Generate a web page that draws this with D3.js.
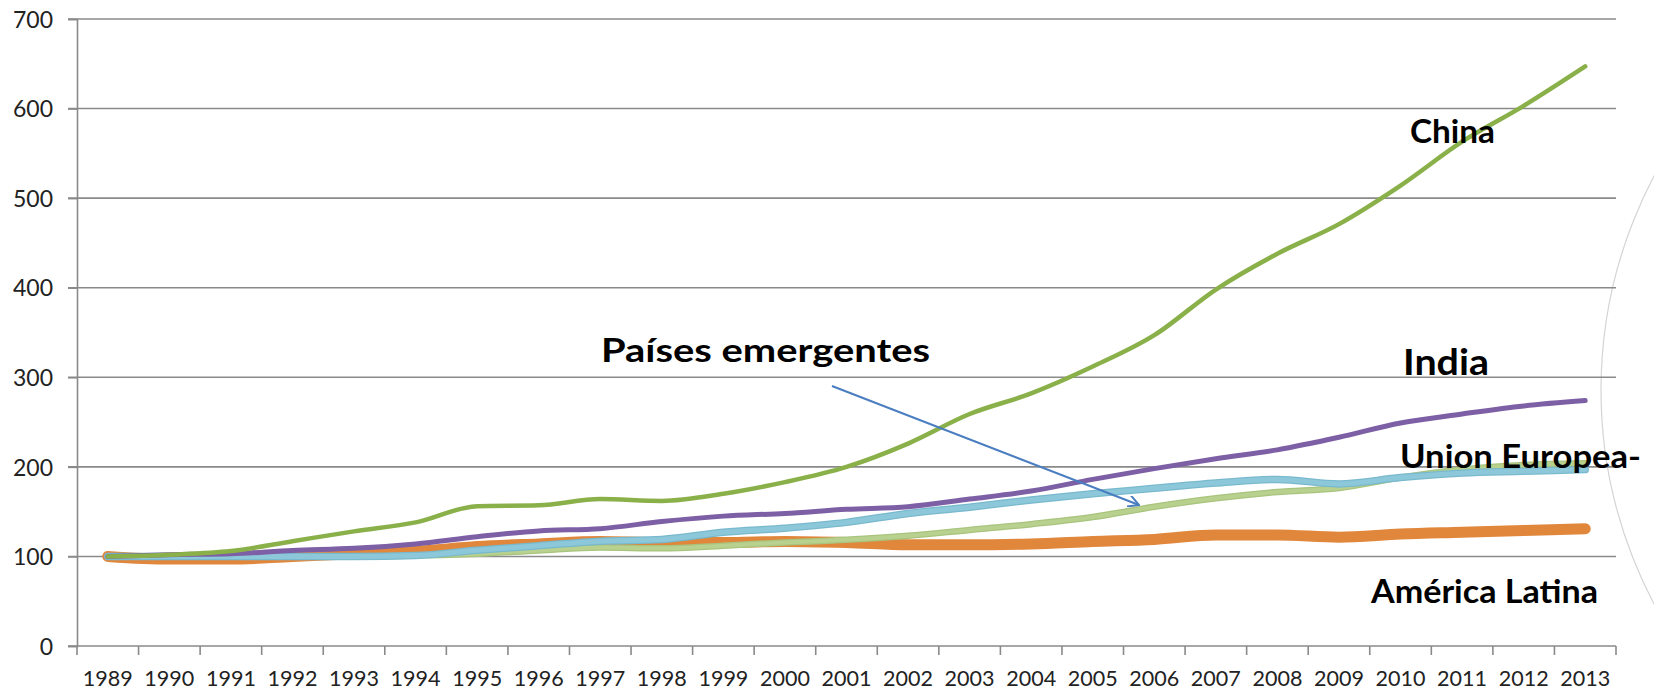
<!DOCTYPE html>
<html>
<head>
<meta charset="utf-8">
<script src="https://cdn.jsdelivr.net/npm/d3@7"></script>
<style>
  html, body { margin: 0; padding: 0; background: #fff; }
  svg { display: block; }
</style>
</head>
<body>
<div id="chart"></div>
<script>
// ---- data ----
const years = ["1989","1990","1991","1992","1993","1994","1995","1996","1997","1998","1999","2000","2001","2002","2003","2004","2005","2006","2007","2008","2009","2010","2011","2012","2013"];
const yTicks = [0, 100, 200, 300, 400, 500, 600, 700];

const americaLatina = [100, 97, 97, 100, 103, 105.5, 111, 114, 116.7, 115.5, 115.5, 116.7, 115.5, 113, 113, 114, 116.7, 119, 124, 124, 121.5, 125, 127, 129, 131];
const emergentes    = [100, 100, 100, 100, 100, 101, 103, 106.7, 110, 109, 112, 115.5, 118.5, 123, 129.6, 136, 144, 155.5, 165, 172, 176.5, 188, 197, 202, 204];
const unionEuropea  = [100, 100, 100, 100, 100, 101, 107, 112, 117, 119, 127, 131.5, 138, 148, 155, 163, 170, 176, 182, 186, 181, 188, 193, 195, 197];
const india         = [100, 102, 103, 106.7, 109, 114, 122, 128.5, 131, 139, 145, 148, 152.6, 155.5, 164, 173, 186, 198, 209, 219, 233, 249, 259, 268, 274];
const china         = [100, 102, 106, 117, 128, 138, 156, 157, 164, 162, 170, 183, 200, 226, 259, 282, 312, 347, 398, 438, 471, 514, 563, 603, 647];

const seriesNames = ["América Latina", "Países emergentes", "Union Europea", "India", "China"];
const seriesValues = [americaLatina, emergentes, unionEuropea, india, china];
const seriesColors = ["#E0873C", "#B8D18E", "#8CC8DA", "#7D5FA5", "#8AB04A"];
const seriesEdge   = [null, "#A9C47E", "#79B9CE", null, null];
const seriesWidths = [11, 5, 6, 5, 4.5];

const labelTexts = ["China", "India", "Union Europea-", "América Latina", "Países emergentes"];

// ---- layout ----
const W = 1654, H = 691;
const plotL = 77, plotR = 1616, plotT = 19, plotB = 646;

const svg = d3.select("#chart").append("svg").attr("width", W).attr("height", H);

const x = d3.scaleBand().domain(years).range([plotL, plotR]).paddingInner(0).paddingOuter(0);
const y = d3.scaleLinear().domain([0, 700]).range([plotB, plotT]);
const cx = d => x(d) + x.bandwidth() / 2;

// decorative faint arc at right
svg.append("circle")
  .attr("cx", 2059).attr("cy", 390).attr("r", 458)
  .attr("fill", "none").attr("stroke", "#d4d4d4").attr("stroke-width", 1.2);

// gridlines
svg.append("g").selectAll("line").data(yTicks.filter(t => t > 0)).join("line")
  .attr("x1", plotL - 9).attr("x2", plotR)
  .attr("y1", d => y(d)).attr("y2", d => y(d))
  .attr("stroke", "#8a8a8a").attr("stroke-width", 1.6);

// y axis
const yAxis = svg.append("g").attr("transform", `translate(${plotL},0)`)
  .call(d3.axisLeft(y).tickValues(yTicks).tickSize(9).tickPadding(15).tickFormat(d3.format("d")));
yAxis.select(".domain").attr("stroke", "#8a8a8a").attr("stroke-width", 1.6);
yAxis.selectAll(".tick line").attr("stroke", "#8a8a8a").attr("stroke-width", 1.6);
yAxis.selectAll("text").attr("font-family", "Lato, 'Open Sans', sans-serif")
  .attr("font-size", 23).attr("fill", "#222").attr("dy", "0.36em");

// x axis
const xAxis = svg.append("g").attr("transform", `translate(0,${plotB})`)
  .call(d3.axisBottom(x).tickSize(0).tickPadding(24));
xAxis.select(".domain").remove();
xAxis.selectAll("text").attr("font-family", "Lato, 'Open Sans', sans-serif")
  .attr("font-size", 22).attr("fill", "#222")
  .attr("textLength", 50).attr("lengthAdjust", "spacingAndGlyphs");
svg.append("line").attr("x1", plotL - 9).attr("x2", plotR).attr("y1", plotB).attr("y2", plotB)
  .attr("stroke", "#8a8a8a").attr("stroke-width", 1.6);
const edges = years.map(d => x(d)).concat([plotR]);
svg.append("g").selectAll("line").data(edges).join("line")
  .attr("x1", d => d).attr("x2", d => d).attr("y1", plotB).attr("y2", plotB + 9)
  .attr("stroke", "#8a8a8a").attr("stroke-width", 1.6);

// lines
const line = d3.line().x((v, i) => cx(years[i])).y(v => y(v)).curve(d3.curveMonotoneX);
seriesValues.forEach((vals, k) => {
  if (seriesEdge[k]) {
    svg.append("path").datum(vals)
      .attr("d", line).attr("fill", "none")
      .attr("stroke", seriesEdge[k]).attr("stroke-width", seriesWidths[k] + 1.5)
      .attr("stroke-linecap", "round").attr("stroke-linejoin", "round");
  }
  svg.append("path").datum(vals)
    .attr("d", line)
    .attr("fill", "none")
    .attr("stroke", seriesColors[k])
    .attr("stroke-width", seriesEdge[k] ? seriesWidths[k] - 1 : seriesWidths[k])
    .attr("stroke-linecap", "round")
    .attr("stroke-linejoin", "round");
});

// arrow
const defs = svg.append("defs");
defs.append("marker").attr("id", "arr").attr("viewBox", "0 0 12 12")
  .attr("refX", 11).attr("refY", 6).attr("markerWidth", 12).attr("markerHeight", 12)
  .attr("markerUnits", "userSpaceOnUse").attr("orient", "auto")
  .append("path").attr("d", "M0,0 L11,6 L0,12").attr("fill", "none")
  .attr("stroke", "#4A7EC0").attr("stroke-width", 2);
svg.append("line")
  .attr("x1", 832).attr("y1", 386).attr("x2", 1139).attr("y2", 505)
  .attr("stroke", "#4A7EC0").attr("stroke-width", 2).attr("marker-end", "url(#arr)");

// labels
const labelPos = [
  {x: 1410, y: 143, size: 33, w: 85},
  {x: 1403, y: 375, size: 36, w: 86},
  {x: 1400, y: 468, size: 32, w: 241},
  {x: 1371, y: 603, size: 32, w: 227},
  {x: 601, y: 362, size: 33, w: 329}
];
svg.append("g").selectAll("text").data(labelTexts).join("text")
  .attr("x", (d, i) => labelPos[i].x)
  .attr("y", (d, i) => labelPos[i].y)
  .attr("font-size", (d, i) => labelPos[i].size)
  .attr("textLength", (d, i) => labelPos[i].w)
  .attr("lengthAdjust", "spacingAndGlyphs")
  .attr("font-family", "Lato, 'Open Sans', sans-serif")
  .attr("font-weight", "bold")
  .attr("fill", "#000")
  .text(d => d);
</script>
</body>
</html>
